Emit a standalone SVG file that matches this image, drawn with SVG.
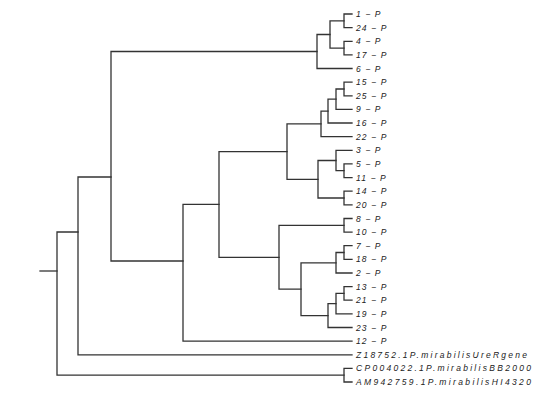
<svg xmlns="http://www.w3.org/2000/svg" width="559" height="409" viewBox="0 0 559 409">
<style>
.e{fill:none;stroke:#333;stroke-width:1.3;stroke-linecap:square}
.t{font-family:"Liberation Sans",Arial,sans-serif;font-style:italic;font-size:8.5px;letter-spacing:1.1px;fill:#222}
</style>
<rect width="559" height="409" fill="#fff"/>
<g id="connectors" class="e">
<path d="M352 14 H344 V27.6 H352"/>
<path d="M352 41.3 H344 V54.9 H352"/>
<path d="M344 20.8 H330 V48.1 H344"/>
<path d="M330 34.5 H317 V68.5 H352"/>
<path d="M352 82.2 H344 V95.8 H352"/>
<path d="M344 89 H336 V109.4 H352"/>
<path d="M336 99.2 H328 V123 H352"/>
<path d="M328 111.1 H321 V136.7 H352"/>
<path d="M352 163.9 H344 V177.6 H352"/>
<path d="M352 150.3 H336 V170.7 H344"/>
<path d="M352 191.2 H344 V204.8 H352"/>
<path d="M336 160.5 H318 V198 H344"/>
<path d="M321 123.9 H287 V179.3 H318"/>
<path d="M352 218.5 H344 V232.1 H352"/>
<path d="M352 245.7 H344 V259.3 H352"/>
<path d="M344 252.5 H336 V273 H352"/>
<path d="M352 286.6 H344 V300.2 H352"/>
<path d="M344 293.4 H336 V313.9 H352"/>
<path d="M336 303.7 H328 V327.5 H352"/>
<path d="M336 262.8 H301 V315.6 H328"/>
<path d="M344 225.3 H279 V289.2 H301"/>
<path d="M287 151.6 H219 V257.3 H279"/>
<path d="M219 204.4 H183 V341.1 H352"/>
<path d="M317 51.5 H111 V261 H183"/>
<path d="M111 177 H78 V354.8 H352"/>
<path d="M352 368.4 H344 V382 H352"/>
<path d="M78 232 H57 V375.2 H344"/>
<path d="M40 271 H57"/>
</g>
<g class="t">
<g id="n1"><text x="356" y="17">1 − P</text></g>
<g id="n24"><text x="356" y="30.6">24 − P</text></g>
<g id="n4"><text x="356" y="44.3">4 − P</text></g>
<g id="n17"><text x="356" y="57.9">17 − P</text></g>
<g id="n6"><text x="356" y="71.5">6 − P</text></g>
<g id="n15"><text x="356" y="85.2">15 − P</text></g>
<g id="n25"><text x="356" y="98.8">25 − P</text></g>
<g id="n9"><text x="356" y="112.4">9 − P</text></g>
<g id="n16"><text x="356" y="126">16 − P</text></g>
<g id="n22"><text x="356" y="139.7">22 − P</text></g>
<g id="n3"><text x="356" y="153.3">3 − P</text></g>
<g id="n5"><text x="356" y="166.9">5 − P</text></g>
<g id="n11"><text x="356" y="180.6">11 − P</text></g>
<g id="n14"><text x="356" y="194.2">14 − P</text></g>
<g id="n20"><text x="356" y="207.8">20 − P</text></g>
<g id="n8"><text x="356" y="221.5">8 − P</text></g>
<g id="n10"><text x="356" y="235.1">10 − P</text></g>
<g id="n7"><text x="356" y="248.7">7 − P</text></g>
<g id="n18"><text x="356" y="262.3">18 − P</text></g>
<g id="n2"><text x="356" y="276">2 − P</text></g>
<g id="n13"><text x="356" y="289.6">13 − P</text></g>
<g id="n21"><text x="356" y="303.2">21 − P</text></g>
<g id="n19"><text x="356" y="316.9">19 − P</text></g>
<g id="n23"><text x="356" y="330.5">23 − P</text></g>
<g id="n12"><text x="356" y="344.1">12 − P</text></g>
<g id="nZ"><text x="356" y="357.8" textLength="172" lengthAdjust="spacing">Z18752.1P.mirabilisUreRgene</text></g>
<g id="nCP"><text x="356" y="371.4" textLength="176" lengthAdjust="spacing">CP004022.1P.mirabilisBB2000</text></g>
<g id="nAM"><text x="356" y="385" textLength="176" lengthAdjust="spacing">AM942759.1P.mirabilisHI4320</text></g>
</g>
</svg>
